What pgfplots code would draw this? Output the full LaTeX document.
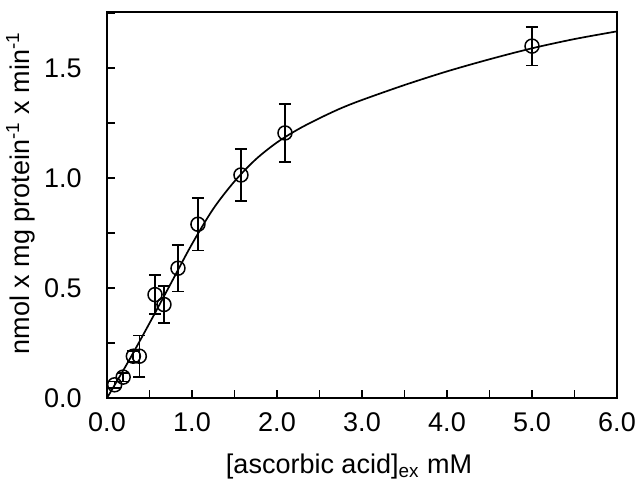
\documentclass[border=0pt]{standalone}
\usepackage{fontspec}
\setmainfont{Liberation Sans}
\usepackage{pgfplots}
\usepackage{pgfplotstable}
\pgfplotsset{compat=1.18}
\pgfplotstableread{
x     y      e
0.09  0.06   0.015
0.19  0.095  0.02
0.31  0.19   0.025
0.38  0.19   0.095
0.565 0.47   0.088
0.67  0.425  0.083
0.835 0.59   0.105
1.07  0.79   0.12
1.576 1.014  0.118
2.094 1.205  0.132
5.00  1.60   0.088
}\datatable
\begin{document}
\begin{tikzpicture}
\begin{axis}[
  scale only axis, width=255bp, height=193bp,
  xmin=0, xmax=6, ymin=0, ymax=1.755,
  axis line style={line width=1bp},
  tick style={line width=0.8bp, black},
  tick align=inside, tick pos=left,
  major tick length=4bp, minor tick length=4bp,
  xtick={0,1,...,6}, minor xtick={0.5,1.5,...,5.5},
  ytick={0,0.5,1,1.5}, minor ytick={0.25,0.75,1.25,1.75},
  /pgf/number format/.cd, fixed, fixed zerofill, precision=1, assume math mode=true, /pgfplots/.cd,
  ticklabel style={font=\fontsize{13.5bp}{16bp}\selectfont},
  xticklabel style={inner sep=0pt, anchor=north, yshift=-7bp},
  yticklabel style={inner sep=0pt, anchor=east, xshift=-12.5bp},
  label style={font=\fontsize{13.5bp}{16bp}\selectfont},
  xlabel={[ascorbic acid]\textsubscript{ex} mM},
  ylabel={nmol x mg protein\textsuperscript{-1} x min\textsuperscript{-1}},
  xlabel style={at={([xshift=-6.5bp,yshift=-37.5bp]axis description cs:0.5,0)}, anchor=base, inner sep=0pt},
  ylabel style={at={([xshift=-38.75bp,yshift=6bp]axis description cs:0,0.5)}, anchor=base, inner sep=0pt},
]
\addplot[black, line width=0.85bp, smooth, no marks] coordinates {
  (0,0) (0.25,0.165) (0.5,0.34) (0.75,0.52) (1.0,0.70) (1.25,0.86)
  (1.5,0.985) (1.75,1.085) (2.0,1.162) (2.25,1.222) (2.5,1.272) (2.75,1.317)
  (3.0,1.355) (3.5,1.423) (4.0,1.485) (4.5,1.54) (5.0,1.59) (5.5,1.632) (6.0,1.667)
};
\addplot[draw=none, mark=none,
  error bars/.cd, y dir=both, y explicit,
  error bar style={draw=black, solid, line width=0.8bp},
  error mark options={draw=black, rotate=90, mark size=3bp, line width=0.8bp}]
  table[x=x, y=y, y error=e] {\datatable};
\addplot[only marks, mark=o, mark size=3.5bp,
  mark options={fill=white, draw=black, line width=0.75bp}]
  table[x=x, y=y] {\datatable};
\end{axis}
\pgfresetboundingbox
\path[use as bounding box] ([shift={(-53.5bp,-49bp)}]current axis.south west) rectangle ([shift={(10.5bp,6bp)}]current axis.north east);
\end{tikzpicture}
\end{document}
